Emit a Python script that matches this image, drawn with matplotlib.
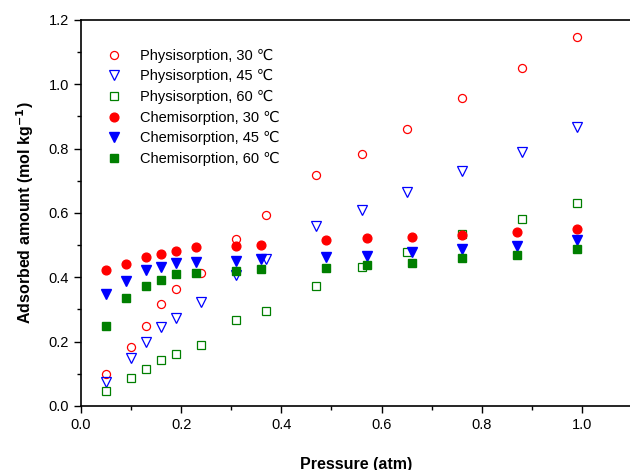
import numpy as np
import matplotlib
matplotlib.use("Agg")
import matplotlib.pyplot as plt
from matplotlib.ticker import MultipleLocator

plt.rcParams['font.family'] = ['Liberation Sans', 'DejaVu Sans']

# Pressure (atm) for each series
p_phys = [0.05, 0.10, 0.13, 0.16, 0.19, 0.24, 0.31, 0.37, 0.47, 0.56, 0.65, 0.76, 0.88, 0.99]
p_chem = [0.05, 0.09, 0.13, 0.16, 0.19, 0.23, 0.31, 0.36, 0.49, 0.57, 0.66, 0.76, 0.87, 0.99]

# Adsorbed amount (mol/kg)
phys_30 = [0.098, 0.183, 0.249, 0.317, 0.365, 0.412, 0.518, 0.594, 0.717, 0.784, 0.860, 0.957, 1.052, 1.148]
phys_45 = [0.076, 0.150, 0.199, 0.245, 0.274, 0.323, 0.407, 0.456, 0.560, 0.608, 0.665, 0.731, 0.790, 0.866]
phys_60 = [0.048, 0.086, 0.114, 0.144, 0.163, 0.191, 0.267, 0.295, 0.372, 0.431, 0.478, 0.535, 0.582, 0.630]
chem_30 = [0.422, 0.441, 0.462, 0.471, 0.481, 0.493, 0.496, 0.501, 0.516, 0.522, 0.526, 0.531, 0.542, 0.551]
chem_45 = [0.348, 0.388, 0.423, 0.433, 0.443, 0.448, 0.452, 0.457, 0.462, 0.467, 0.478, 0.488, 0.497, 0.517]
chem_60 = [0.250, 0.335, 0.374, 0.391, 0.409, 0.414, 0.420, 0.425, 0.430, 0.439, 0.444, 0.459, 0.468, 0.489]

fig = plt.figure(figsize=(6.3, 4.7), dpi=100)
ax = fig.add_axes([0.1286, 0.1362, 0.8746, 0.8213])

green = '#007f00'
ax.plot(p_phys, phys_30, 'o', ms=5.8, mfc='none', mec='red', mew=0.9, label='Physisorption, 30 ℃')
ax.plot(p_phys, phys_45, 'v', ms=6.5, mfc='none', mec='blue', mew=0.9, label='Physisorption, 45 ℃')
ax.plot(p_phys, phys_60, 's', ms=5.6, mfc='none', mec=green, mew=0.9, label='Physisorption, 60 ℃')
ax.plot(p_chem, chem_30, 'o', ms=6.3, color='red', mec='red', label='Chemisorption, 30 ℃')
ax.plot(p_chem, chem_45, 'v', ms=7, color='blue', mec='blue', label='Chemisorption, 45 ℃')
ax.plot(p_chem, chem_60, 's', ms=6, color=green, mec=green, label='Chemisorption, 60 ℃')

ax.set_xlim(0, 1.1)
ax.set_ylim(0, 1.2)
ax.xaxis.set_major_locator(MultipleLocator(0.2))
ax.xaxis.set_minor_locator(MultipleLocator(0.1))
ax.yaxis.set_major_locator(MultipleLocator(0.2))
ax.yaxis.set_minor_locator(MultipleLocator(0.1))
ax.xaxis.set_major_formatter(matplotlib.ticker.FormatStrFormatter('%.1f'))
ax.yaxis.set_major_formatter(matplotlib.ticker.FormatStrFormatter('%.1f'))
ax.tick_params(which='major', direction='out', length=5, width=1, labelsize=10.5)
ax.tick_params(which='minor', direction='out', length=3, width=1)
ax.spines['right'].set_visible(False)
for s in ['left', 'bottom', 'top']:
    ax.spines[s].set_linewidth(1.2)

ax.set_xlabel('Pressure (atm)', fontsize=11.5, fontweight='bold', labelpad=18)
ax.set_ylabel('Adsorbed amount (mol kg$^{\\mathbf{-1}}$)', fontsize=11.5, fontweight='bold', labelpad=9)

ax.legend(loc='upper left', bbox_to_anchor=(0.02, 0.96), frameon=False, fontsize=10.5,
          handletextpad=1.2, labelspacing=0.45, handlelength=1.2)

fig.savefig('out.png', dpi=100)
